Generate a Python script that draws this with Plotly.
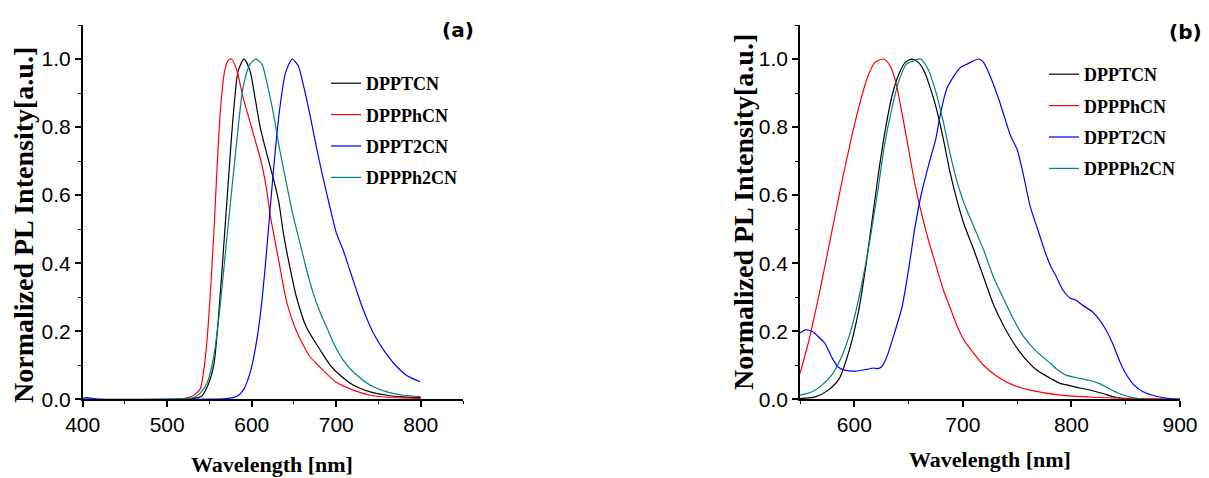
import plotly.graph_objects as go

# page body has an 8px margin, so the figure is drawn 8px right/down of the window corner
OFF = 8
W, H = 1209 - OFF, 478 - OFF

series_names = ["DPPTCN", "DPPPhCN", "DPPT2CN", "DPPPh2CN"]
series_colors = ["#000000", "#FF0000", "#0000FF", "#008080"]

# ---------- panel (a) ----------
a_dpptcn_x = [400, 500, 530, 540, 547, 555, 560, 566, 572, 578, 584, 591, 598, 604, 610, 618, 626, 632, 638, 645, 653, 665, 681, 693, 705, 720, 740, 760, 780, 800]
a_dpptcn_y = [0, 0, 0.002, 0.008, 0.035, 0.10, 0.22, 0.42, 0.63, 0.83, 0.965, 1.0, 0.965, 0.885, 0.80, 0.72, 0.645, 0.58, 0.48, 0.39, 0.30, 0.21, 0.145, 0.10, 0.07, 0.042, 0.022, 0.012, 0.007, 0.005]

a_dppphcn_x = [400, 510, 525, 532, 539, 543, 547, 551, 555, 559, 563, 568, 572, 576, 582, 590, 598, 606, 612, 618, 622, 628, 634, 641, 653, 669, 681, 693, 700, 720, 740, 760, 780, 800]
a_dppphcn_y = [0, 0, 0.005, 0.013, 0.03, 0.08, 0.17, 0.31, 0.48, 0.68, 0.85, 0.965, 0.995, 1.0, 0.97, 0.885, 0.815, 0.745, 0.69, 0.61, 0.54, 0.46, 0.38, 0.29, 0.20, 0.125, 0.094, 0.065, 0.05, 0.027, 0.012, 0.006, 0.004, 0.003]

a_dppt2cn_x = [400, 405, 412, 420, 500, 570, 582, 590, 598, 604, 610, 616, 622, 628, 634, 640, 648, 655, 661, 669, 677, 685, 693, 700, 708, 716, 724, 732, 744, 756, 768, 783, 799]
a_dppt2cn_y = [0.003, 0.005, 0.002, 0, 0, 0.002, 0.008, 0.027, 0.077, 0.145, 0.245, 0.39, 0.565, 0.735, 0.87, 0.96, 1.0, 0.98, 0.925, 0.835, 0.735, 0.645, 0.56, 0.49, 0.44, 0.38, 0.32, 0.263, 0.194, 0.145, 0.106, 0.071, 0.052]

a_dppph2cn_x = [400, 500, 530, 539, 547, 555, 562, 570, 578, 584, 590, 598, 605, 612, 618, 626, 633, 641, 649, 657, 665, 673, 681, 689, 697, 708, 720, 740, 760, 780, 800]
a_dppph2cn_y = [0, 0, 0.004, 0.018, 0.047, 0.125, 0.26, 0.46, 0.655, 0.80, 0.92, 0.985, 1.0, 0.985, 0.93, 0.835, 0.735, 0.635, 0.54, 0.46, 0.38, 0.31, 0.255, 0.21, 0.165, 0.116, 0.081, 0.042, 0.022, 0.012, 0.008]

# ---------- panel (b) ----------
b_dpptcn_x = [550, 564, 576, 586, 595, 604, 611, 617, 623, 629, 635, 641, 647, 653, 659, 665, 671, 676, 682, 688, 695, 701, 710, 719, 728, 738, 747, 756, 768, 781, 790, 795, 804, 816, 829, 841, 853, 870, 900]
b_dpptcn_y = [0.002, 0.007, 0.027, 0.06, 0.14, 0.26, 0.40, 0.54, 0.68, 0.80, 0.895, 0.955, 0.99, 1.0, 0.99, 0.96, 0.905, 0.85, 0.765, 0.67, 0.58, 0.515, 0.44, 0.36, 0.28, 0.213, 0.164, 0.125, 0.086, 0.061, 0.046, 0.043, 0.036, 0.028, 0.017, 0.006, 0.001, 0, 0]

b_dppphcn_x = [550, 558, 564, 570, 576, 582, 588, 594, 600, 606, 612, 619, 627, 633, 638, 644, 650, 656, 662, 669, 676, 682, 689, 695, 701, 710, 719, 732, 747, 762, 790, 820, 850, 900]
b_dppphcn_y = [0.076, 0.17, 0.255, 0.345, 0.44, 0.535, 0.63, 0.72, 0.805, 0.88, 0.945, 0.99, 1.0, 0.98, 0.935, 0.84, 0.735, 0.63, 0.545, 0.46, 0.385, 0.322, 0.263, 0.213, 0.174, 0.135, 0.10, 0.066, 0.041, 0.027, 0.012, 0.006, 0.003, 0.0]

b_dppt2cn_x = [550, 555, 561, 567, 573, 579, 585, 592, 601, 610, 618, 621, 625, 630, 636, 644, 650, 656, 662, 669, 675, 679, 685, 692, 698, 704, 710, 715, 719, 725, 732, 738, 744, 750, 756, 762, 769, 775, 781, 786, 792, 799, 804, 810, 819, 826, 832, 838, 844, 850, 858, 866, 878, 890, 900]
b_dppt2cn_y = [0.195, 0.204, 0.2, 0.184, 0.164, 0.125, 0.095, 0.085, 0.083, 0.087, 0.092, 0.09, 0.095, 0.125, 0.184, 0.272, 0.381, 0.508, 0.607, 0.695, 0.764, 0.833, 0.911, 0.951, 0.976, 0.985, 0.995, 1.0, 0.99, 0.951, 0.892, 0.833, 0.774, 0.734, 0.656, 0.567, 0.499, 0.44, 0.39, 0.361, 0.322, 0.297, 0.292, 0.277, 0.258, 0.233, 0.203, 0.164, 0.115, 0.076, 0.041, 0.022, 0.009, 0.002, 0.0]

b_dppph2cn_x = [550, 561, 570, 580, 589, 598, 607, 615, 622, 628, 635, 641, 648, 655, 661, 668, 675, 682, 688, 695, 701, 710, 719, 728, 738, 747, 756, 768, 781, 786, 795, 804, 816, 826, 835, 844, 856, 869, 900]
b_dppph2cn_y = [0.012, 0.022, 0.041, 0.075, 0.13, 0.215, 0.34, 0.48, 0.62, 0.75, 0.86, 0.935, 0.985, 0.995, 1.0, 0.97, 0.905, 0.815, 0.725, 0.636, 0.577, 0.508, 0.44, 0.361, 0.292, 0.233, 0.184, 0.14, 0.105, 0.09, 0.071, 0.064, 0.056, 0.046, 0.031, 0.017, 0.005, 0.0, 0]

panel_a = [(a_dpptcn_x, a_dpptcn_y), (a_dppphcn_x, a_dppphcn_y), (a_dppt2cn_x, a_dppt2cn_y), (a_dppph2cn_x, a_dppph2cn_y)]
panel_b = [(b_dpptcn_x, b_dpptcn_y), (b_dppphcn_x, b_dppphcn_y), (b_dppt2cn_x, b_dppt2cn_y), (b_dppph2cn_x, b_dppph2cn_y)]

fig = go.Figure()
for i, (xs, ys) in enumerate(panel_a):
    fig.add_trace(go.Scatter(x=xs, y=ys, mode="lines", name=series_names[i],
                             line=dict(color=series_colors[i], width=1.2, shape="spline", smoothing=0.7),
                             xaxis="x", yaxis="y", legend="legend", legendgroup="a%d" % i))
for i, (xs, ys) in enumerate(panel_b):
    fig.add_trace(go.Scatter(x=xs, y=ys, mode="lines", name=series_names[i],
                             line=dict(color=series_colors[i], width=1.2, shape="spline", smoothing=0.7),
                             xaxis="x2", yaxis="y2", legend="legend2", legendgroup="b%d" % i))

def px_x(p):
    return (p - OFF) / W

def px_y(p):
    return 1 - (p - OFF) / H

tick_font = dict(family="Liberation Sans, Arial, sans-serif", size=21, color="black")
ydom = [px_y(399.3), px_y(25)]

common_axis = dict(showline=True, linecolor="black", linewidth=1.5, ticks="outside",
                   ticklen=6, tickwidth=1.5, tickcolor="black", showgrid=False, zeroline=False,
                   tickfont=tick_font, mirror=False, automargin=False)

legend_font = dict(family="Liberation Serif, Times New Roman, serif", size=18, color="black", weight="bold")

fig.update_layout(
    template="none",
    width=W, height=H,
    margin=dict(l=0, r=0, t=0, b=0, pad=0, autoexpand=False),
    paper_bgcolor="white", plot_bgcolor="white",
    xaxis=dict(domain=[px_x(82.7), px_x(463)], range=[400, 850], tick0=400, dtick=100,
               minor=dict(dtick=50, ticklen=3, tickwidth=1.2, tickcolor="black", ticks="outside"),
               anchor="y", **common_axis),
    yaxis=dict(domain=ydom, range=[0, 1.1], tick0=0, dtick=0.2, tickformat=".1f",
               minor=dict(dtick=0.1, ticklen=3, tickwidth=1.2, tickcolor="black", ticks="outside"),
               anchor="x", **common_axis),
    xaxis2=dict(domain=[px_x(800), px_x(1180)], range=[550, 900], tick0=600, dtick=100,
                minor=dict(tick0=550, dtick=50, ticklen=3, tickwidth=1.2, tickcolor="black", ticks="outside"),
                anchor="y2", **common_axis),
    yaxis2=dict(domain=ydom, range=[0, 1.1], tick0=0, dtick=0.2, tickformat=".1f",
                minor=dict(dtick=0.1, ticklen=3, tickwidth=1.2, tickcolor="black", ticks="outside"),
                anchor="x2", **common_axis),
    legend=dict(x=px_x(326), y=px_y(65), xanchor="left", yanchor="top",
                bgcolor="rgba(0,0,0,0)", borderwidth=0, itemwidth=30, tracegroupgap=5,
                font=legend_font),
    legend2=dict(x=px_x(1044), y=px_y(56), xanchor="left", yanchor="top",
                 bgcolor="rgba(0,0,0,0)", borderwidth=0, itemwidth=30, tracegroupgap=5,
                 font=legend_font),
    showlegend=True,
)

title_font = dict(family="Liberation Serif, Times New Roman, serif", size=22, color="black")
ytitle_font = dict(family="Liberation Serif, Times New Roman, serif", size=28, color="black")
label_font = dict(family="DejaVu Sans, Verdana, sans-serif", size=20, color="black")

annotations = [
    dict(text="<b>Normalized PL Intensity[a.u.]</b>", x=px_x(23), y=px_y(225), textangle=-90, font=ytitle_font),
    dict(text="<b>Normalized PL Intensity[a.u.]</b>", x=px_x(744), y=px_y(212), textangle=-90, font=ytitle_font),
    dict(text="<b>Wavelength [nm]</b>", x=px_x(272), y=px_y(464), font=title_font),
    dict(text="<b>Wavelength [nm]</b>", x=px_x(990), y=px_y(459), font=title_font),
    dict(text="<b>(a)</b>", x=px_x(458), y=px_y(30), font=label_font),
    dict(text="<b>(b)</b>", x=px_x(1185), y=px_y(32), font=label_font),
]
for a in annotations:
    a.update(xref="paper", yref="paper", xanchor="center", yanchor="middle", showarrow=False)
fig.update_layout(annotations=annotations)

fig.write_html("out.html")
